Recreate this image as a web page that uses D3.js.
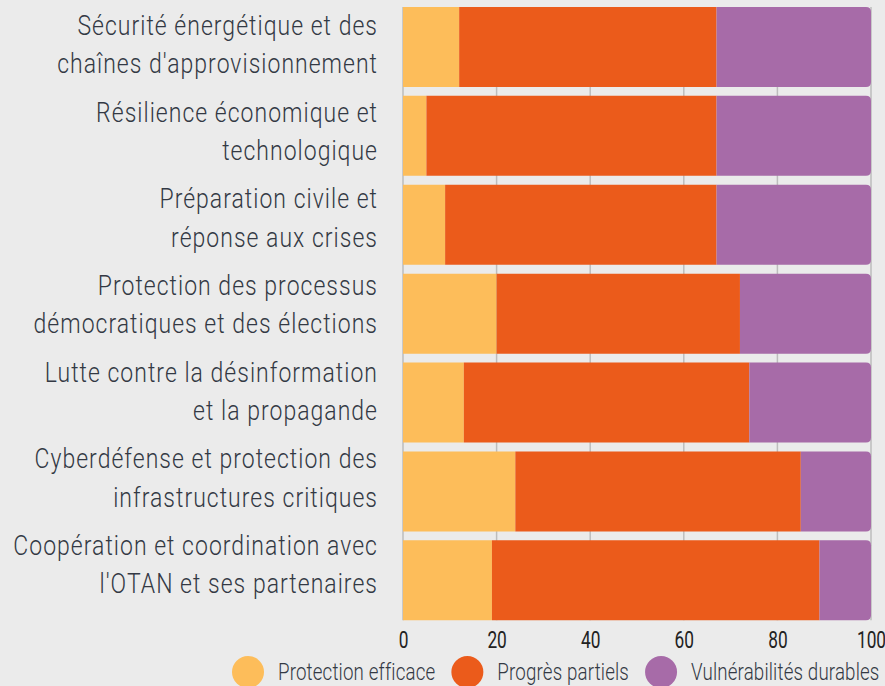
<!DOCTYPE html>
<meta charset="UTF-8">
<script src="https://d3js.org/d3.v7.min.js"></script>
<style>
  body { margin: 0; background: #ebebeb; }
  svg { display: block; }
  text { font-family: Roboto, "DejaVu Sans Condensed", sans-serif; fill: #333944; }
</style>
<div id="my_dataviz"></div>
<script>

// data
var categories = [
  ["Sécurité énergétique et des", "chaînes d'approvisionnement"],
  ["Résilience économique et", "technologique"],
  ["Préparation civile et", "réponse aux crises"],
  ["Protection des processus", "démocratiques et des élections"],
  ["Lutte contre la désinformation", "et la propagande"],
  ["Cyberdéfense et protection des", "infrastructures critiques"],
  ["Coopération et coordination avec", "l'OTAN et ses partenaires"]
]
var efficace   = [12, 5, 9, 20, 13, 24, 19]
var partiels   = [55, 62, 58, 52, 61, 61, 70]
var durables   = [33, 33, 33, 28, 26, 15, 11]
var seriesNames = ["Protection efficace", "Progrès partiels", "Vulnérabilités durables"]
var xTicks = [0, 20, 40, 60, 80, 100]

var width = 885, height = 686
var colors = ["#fdbd5a", "#eb5b1b", "#a76ba8"]

var svg = d3.select("#my_dataviz").append("svg")
    .attr("width", width).attr("height", height)

svg.append("rect").attr("width", width).attr("height", height).attr("fill", "#ebebeb")

var x = d3.scaleLinear().domain([0, 100]).range([403, 871])
var keys = categories.map(function(d, i){ return i })
var y = d3.scaleBand().domain(keys).range([2.5, 624.8]).paddingInner(0.1).paddingOuter(0.05)
// labels sit on their own slightly tighter rhythm
var labelY = d3.scalePoint().domain(keys).range([35, 555])

var rows = keys.map(function(i){
  return { i: i, 0: efficace[i], 1: partiels[i], 2: durables[i] }
})
var stack = d3.stack().keys([0, 1, 2])(rows)

// grid lines
svg.append("g").selectAll("line")
  .data(xTicks).enter().append("line")
    .attr("x1", function(d){ return x(d) }).attr("x2", function(d){ return x(d) })
    .attr("y1", y(0)).attr("y2", y(6) + y.bandwidth())
    .attr("stroke", "#bdbdbd").attr("stroke-width", 1.5)

// bars
var r = 5
stack.forEach(function(layer, k){
  svg.append("g").selectAll("path")
    .data(layer).enter().append("path")
      .attr("fill", colors[k])
      .attr("d", function(d){
        var x0 = x(d[0]), x1 = x(d[1]), y0 = y(d.data.i), h = y.bandwidth()
        if (k < 2) return "M" + x0 + "," + y0 + "H" + x1 + "V" + (y0 + h) + "H" + x0 + "Z"
        return "M" + x0 + "," + y0 + "H" + (x1 - r) + "Q" + x1 + "," + y0 + " " + x1 + "," + (y0 + r) +
          "V" + (y0 + h - r) + "Q" + x1 + "," + (y0 + h) + " " + (x1 - r) + "," + (y0 + h) + "H" + x0 + "Z"
      })
})

// category labels, condensed to match the narrow face of the original
var labG = svg.append("g")
var lab = labG.selectAll("text").data(keys).enter().append("text")
    .attr("text-anchor", "end")
    .style("font-size", "27px").style("font-weight", 300).style("letter-spacing", "1.2px")
lab.each(function(i){
  var t = d3.select(this)
  categories[i].forEach(function(line, j){
    t.append("tspan").attr("x", 0).attr("y", labelY(i) + j * 38.5).text(line)
  })
})
var probe = lab.filter(function(i){ return i === 0 }).select("tspan:nth-child(2)").node().getComputedTextLength()
var sx = 321 / probe
lab.attr("transform", "translate(378,0) scale(" + sx + ",1)")

// x axis labels
var axis = svg.append("g").attr("transform", "translate(0,619)")
  .call(d3.axisBottom(x).tickValues(xTicks).tickSize(0).tickPadding(0).tickFormat(d3.format("d")))
axis.select(".domain").remove()
axis.selectAll("text").attr("y", null).attr("dy", null)
  .style("font-size", "24px").style("font-weight", 400).style("fill", "#222")
  .attr("transform", "translate(0,29) scale(0.72,1)")

// legend
var leg = svg.append("g")
var lx = 232
seriesNames.forEach(function(name, k){
  var g = leg.append("g").attr("transform", "translate(" + lx + ",0)")
  g.append("circle").attr("cx", 16).attr("cy", 672).attr("r", 16).attr("fill", colors[k])
  var t = g.append("text").attr("x", 0).attr("y", 680)
    .style("font-size", "24px").style("font-weight", 300).style("letter-spacing", "0.2px")
    .text(name)
  var w = t.node().getComputedTextLength() * 0.78
  t.attr("transform", "translate(46,0) scale(0.78,1)")
  lx += 46 + w + 16
})

</script>
